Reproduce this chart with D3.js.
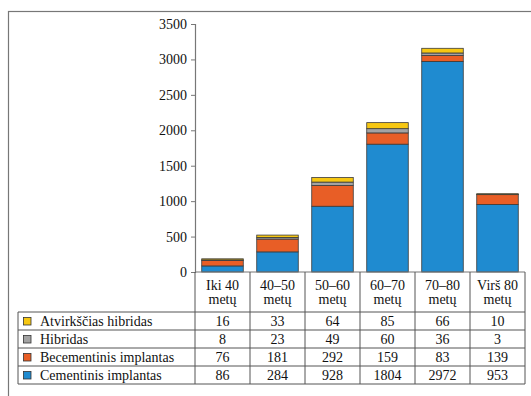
<!DOCTYPE html>
<html><head><meta charset="utf-8">
<script src="https://cdn.jsdelivr.net/npm/d3@7"></script>
<style>body{margin:0;background:#fff}svg{display:block}text{font-family:"Liberation Serif","Times New Roman",Times,serif}</style>
</head><body>
<script>
const categories = [["Iki 40","metų"],["40–50","metų"],["50–60","metų"],["60–70","metų"],["70–80","metų"],["Virš 80","metų"]];
const seriesNames = ["Cementinis implantas","Becementinis implantas","Hibridas","Atvirkščias hibridas"];
const cementinis = [86,284,928,1804,2972,953];
const becementinis = [76,181,292,159,83,139];
const hibridas = [8,23,49,60,36,3];
const atvirkscias = [16,33,64,85,66,10];
const yTicks = [0,500,1000,1500,2000,2500,3000,3500];
const colors = ["#1f8bd0","#e85e26","#a3a3a3","#f6c712"];

const W=531,H=396;
const svg=d3.select("body").append("svg").attr("width",W).attr("height",H);
const font='"Liberation Serif","Times New Roman",Times,serif';
// frame
svg.append("rect").attr("x",8.5).attr("y",11.5).attr("width",W).attr("height",H).attr("fill","none").attr("stroke","#777").attr("stroke-width",1.2);

const x0=195, x1=525, yTop=24, yBot=272;
const x=d3.scaleBand().domain(d3.range(categories.length)).range([x0,x1]).paddingInner(0.245).paddingOuter(0.1225);
const y=d3.scaleLinear().domain([0,3500]).range([yBot,yTop]);
const bandStep=x.step();

const seriesVals=[cementinis,becementinis,hibridas,atvirkscias];
const rows=categories.map((c,i)=>{const o={i};seriesNames.forEach((s,k)=>o[s]=seriesVals[k][i]);return o;});
const stack=d3.stack().keys(seriesNames)(rows);

// bars
stack.forEach((layer,k)=>{
  svg.append("g").selectAll("rect").data(layer).join("rect")
    .attr("x",d=>x(d.data.i)).attr("width",x.bandwidth())
    .attr("y",d=>y(d[1])).attr("height",d=>y(d[0])-y(d[1]))
    .attr("fill",colors[k]).attr("stroke","#3a3a3a").attr("stroke-width",0.8);
});

// y axis
const yAxis=svg.append("g").attr("transform",`translate(${x0},0)`)
  .call(d3.axisLeft(y).tickValues(yTicks).tickFormat(d3.format("d")).tickSize(4).tickPadding(4));
yAxis.attr("font-family",null);
yAxis.select(".domain").attr("stroke","#777").attr("stroke-width",1.2);
yAxis.selectAll(".tick line").attr("stroke","#777");
yAxis.selectAll("text").style("font-family",font).attr("font-size",14).attr("fill","#111");

// table
const rowTop=312, rowH=18, nRows=4, tblBot=rowTop+rowH*nRows;
const legX=18;
const lineC="#555";
const g=svg.append("g");
g.append("line").attr("x1",x0).attr("x2",x1).attr("y1",yBot).attr("y2",yBot).attr("stroke","#777").attr("stroke-width",1.2);
d3.range(categories.length+1).forEach(j=>{
  const xx=x0+j*bandStep;
  g.append("line").attr("x1",xx).attr("x2",xx).attr("y1",yBot).attr("y2",tblBot).attr("stroke",lineC).attr("stroke-width",1);
});
g.append("line").attr("x1",legX).attr("x2",legX).attr("y1",rowTop).attr("y2",tblBot).attr("stroke",lineC);
d3.range(nRows+1).forEach(r=>{
  const yy=rowTop+r*rowH;
  g.append("line").attr("x1",legX).attr("x2",x1).attr("y1",yy).attr("y2",yy).attr("stroke",lineC);
});
categories.forEach((c,j)=>{
  const cx=x0+(j+0.5)*bandStep;
  g.append("text").attr("x",cx).attr("y",290).attr("text-anchor","middle").style("font-family",font).attr("font-size",14).attr("fill","#111").text(c[0]);
  g.append("text").attr("x",cx).attr("y",304).attr("text-anchor","middle").style("font-family",font).attr("font-size",14).attr("fill","#111").text(c[1]);
});
const order=[3,2,1,0];
order.forEach((k,r)=>{
  const yy=rowTop+r*rowH;
  g.append("rect").attr("x",23.5).attr("y",yy+5.5).attr("width",7.5).attr("height",7.5).attr("fill",colors[k]).attr("stroke","#333").attr("stroke-width",0.8);
  g.append("text").attr("x",40).attr("y",yy+14).style("font-family",font).attr("font-size",14).attr("fill","#111").text(seriesNames[k]);
  seriesVals[k].forEach((v,j)=>{
    g.append("text").attr("x",x0+(j+0.5)*bandStep).attr("y",yy+14).attr("text-anchor","middle").style("font-family",font).attr("font-size",14).attr("fill","#111").text(v);
  });
});
</script>
</body></html>
